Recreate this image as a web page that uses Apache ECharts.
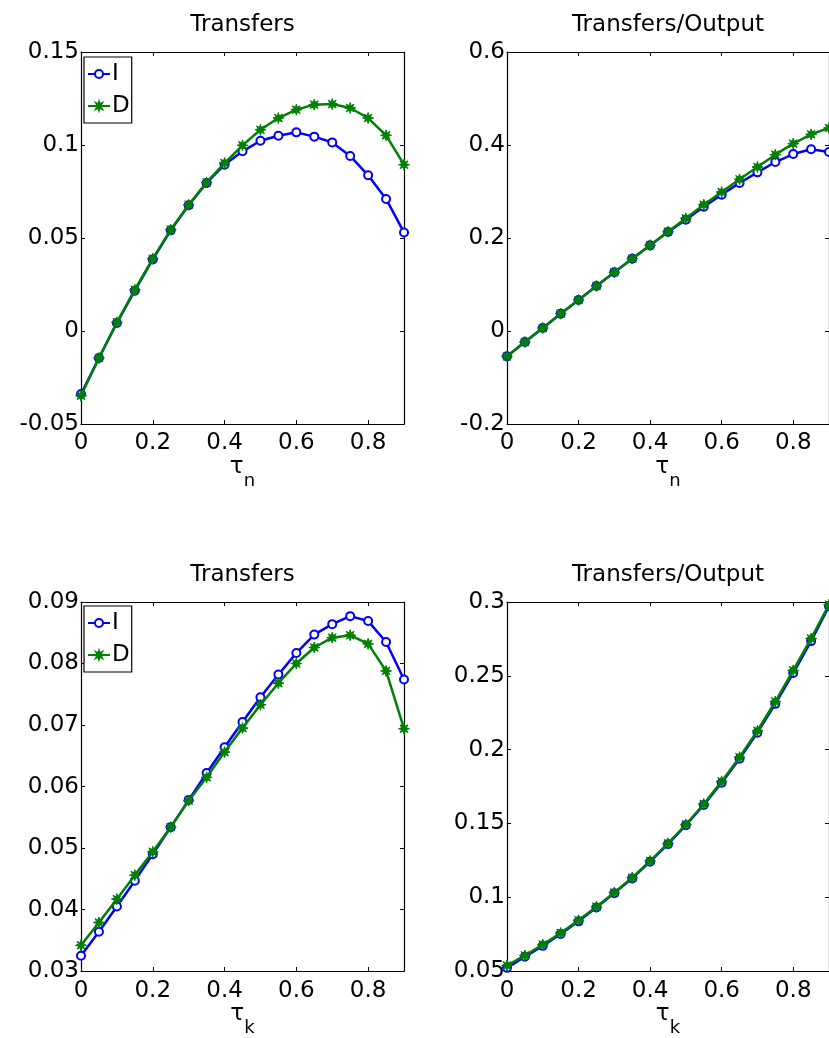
<!DOCTYPE html>
<html><head><meta charset="utf-8">
<script src="https://cdn.jsdelivr.net/npm/echarts@6/dist/echarts.min.js"></script>
<style>html,body{margin:0;padding:0;background:#fff}#c{width:829px;height:1038px}</style>
</head><body><div id="c"></div>
<script>
// x values (tau) and tick labels
const tau = [0,0.05,0.1,0.15,0.2,0.25,0.3,0.35,0.4,0.45,0.5,0.55,0.6,0.65,0.7,0.75,0.8,0.85,0.9];
const xTicks = [0,0.2,0.4,0.6,0.8];
const xMax = 0.9;

// Panel 1: Transfers vs tau_n
const transfersN_I = [-0.0339,-0.0145,0.0043,0.0217,0.0385,0.0541,0.0676,0.0796,0.0894,0.0966,0.1023,0.1050,0.1068,0.1045,0.1014,0.0941,0.0837,0.0710,0.0530];
const transfersN_D = [-0.0348,-0.0145,0.0047,0.0222,0.0389,0.0545,0.0679,0.0799,0.0903,0.0998,0.1082,0.1145,0.1190,0.1217,0.1220,0.1199,0.1145,0.1052,0.0894];
const yTicks1 = [-0.05,0,0.05,0.1,0.15];

// Panel 2: Transfers/Output vs tau_n
const ratioN_I = [-0.0545,-0.0237,0.0065,0.0373,0.0667,0.0968,0.1262,0.1556,0.1842,0.2129,0.2394,0.2674,0.2932,0.3183,0.3412,0.3634,0.3806,0.3907,0.3850];
const ratioN_D = [-0.0545,-0.0237,0.0065,0.0373,0.0667,0.0968,0.1262,0.1556,0.1845,0.2135,0.2423,0.2717,0.2989,0.3262,0.3527,0.3792,0.4029,0.4229,0.4366];
const yTicks2 = [-0.2,0,0.2,0.4,0.6];

// Panel 3: Transfers vs tau_k
const transfersK_I = [0.0325,0.0364,0.0405,0.0447,0.0490,0.0534,0.0578,0.0622,0.0664,0.0705,0.0745,0.0782,0.0817,0.0847,0.0864,0.0877,0.0869,0.0835,0.0774];
const transfersK_D = [0.0342,0.0379,0.0417,0.0456,0.0494,0.0534,0.0577,0.0615,0.0656,0.0695,0.0733,0.0768,0.0800,0.0826,0.0842,0.0846,0.0832,0.0788,0.0694];
const yTicks3 = [0.03,0.04,0.05,0.06,0.07,0.08,0.09];

// Panel 4: Transfers/Output vs tau_k
const ratioK_I = [0.0522,0.0597,0.0671,0.0752,0.0837,0.0931,0.1028,0.1128,0.1241,0.1360,0.1488,0.1625,0.1776,0.1938,0.2115,0.2310,0.2519,0.2735,0.2971];
const ratioK_D = [0.0538,0.0606,0.0680,0.0758,0.0844,0.0936,0.1032,0.1133,0.1246,0.1365,0.1493,0.1632,0.1785,0.1949,0.2128,0.2326,0.2537,0.2753,0.2982];
const yTicks4 = [0.05,0.1,0.15,0.2,0.25,0.3];

const seriesNames = ['I','D'];
const titles = ['Transfers','Transfers/Output','Transfers','Transfers/Output'];
const subs = ['n','n','k','k'];

const FONT = 'DejaVu Sans';
const STAR = 'path://M20,10L14.2,11.7L17.07,17.07L11.7,14.2L10,20L8.3,14.2L2.93,17.07L5.8,11.7L0,10L5.8,8.3L2.93,2.93L8.3,5.8L10,0L11.7,5.8L17.07,2.93L14.2,8.3Z';

const panels = [
  {grid:{left:81,top:52,width:323,height:372}, yTicks:yTicks1, I:transfersN_I, D:transfersN_D},
  {grid:{left:507,top:52,width:323,height:372}, yTicks:yTicks2, I:ratioN_I, D:ratioN_D},
  {grid:{left:81,top:602,width:323,height:371}, yTicks:yTicks3, I:transfersK_I, D:transfersK_D},
  {grid:{left:507,top:602,width:323,height:371}, yTicks:yTicks4, I:ratioK_I, D:ratioK_D}
];

const line = {show:true, onZero:false, lineStyle:{color:'#000', width:1.2}};
const tick = {show:true, inside:true, length:4, lineStyle:{color:'#000', width:1}};

const grid=[], xAxis=[], yAxis=[], series=[];
panels.forEach((p,i)=>{
  grid.push(Object.assign({containLabel:false}, p.grid));
  const yt = p.yTicks;
  const yMin = yt[0], yMax = yt[yt.length-1], yInt = +(yt[1]-yt[0]).toFixed(4);
  const xInt = xTicks[1]-xTicks[0];
  xAxis.push({
    type:'value', gridIndex:i, position:'bottom', min:xTicks[0], max:xMax, interval:xInt,
    axisLine:line, axisTick:tick, splitLine:{show:false},
    axisLabel:{color:'#000', fontSize:23, fontFamily:FONT, margin:8, showMaxLabel:false},
    name:'{t|τ}{s|'+subs[i]+'}', nameLocation:'middle', nameGap:30,
    nameTextStyle:{rich:{
      t:{fontSize:23, fontFamily:FONT, color:'#000', lineHeight:34, verticalAlign:'top'},
      s:{fontSize:18, fontFamily:FONT, color:'#000', lineHeight:34, verticalAlign:'bottom'}
    }}
  });
  xAxis.push({
    type:'value', gridIndex:i, position:'top', min:xTicks[0], max:xMax, interval:xInt,
    axisLine:line, axisTick:tick, splitLine:{show:false}, axisLabel:{show:false},
    name:titles[i], nameLocation:'middle', nameGap:15,
    nameTextStyle:{fontSize:23, fontFamily:FONT, color:'#000'}
  });
  yAxis.push({
    type:'value', gridIndex:i, position:'left', min:yMin, max:yMax, interval:yInt,
    axisLine:line, axisTick:tick, splitLine:{show:false},
    axisLabel:{color:'#000', fontSize:23, fontFamily:FONT, margin:2}
  });
  yAxis.push({
    type:'value', gridIndex:i, position:'right', min:yMin, max:yMax, interval:yInt,
    axisLine:line, axisTick:tick, splitLine:{show:false}, axisLabel:{show:false}
  });
  series.push({
    name:'I', type:'line', xAxisIndex:2*i, yAxisIndex:2*i,
    data: tau.map((x,k)=>[x,p.I[k]]),
    symbol:'emptyCircle', symbolSize:8, color:'#0000ff',
    lineStyle:{width:2.5, color:'#0000ff'}, itemStyle:{color:'#0000ff', borderWidth:2},
    animation:false, z:2
  });
  series.push({
    name:'D', type:'line', xAxisIndex:2*i, yAxisIndex:2*i,
    data: tau.map((x,k)=>[x,p.D[k]]),
    symbol:STAR, symbolSize:11, color:'#008000',
    lineStyle:{width:2.5, color:'#008000'}, itemStyle:{color:'#008000', borderColor:'#008000', borderWidth:1},
    animation:false, z:3
  });
});

const legendBase = {
  orient:'vertical', left:84, data:seriesNames, backgroundColor:'#fff',
  borderColor:'#000', borderWidth:1.2, padding:[4,2,4,3], itemGap:6,
  itemWidth:22, itemHeight:10, selectedMode:false,
  textStyle:{fontSize:23, fontFamily:FONT, color:'#000', lineHeight:26, padding:[0,0,0,-3]}
};

const chart = echarts.init(document.getElementById('c'), null, {renderer:'canvas'});
chart.setOption({
  backgroundColor:'#fff',
  animation:false,
  grid, xAxis, yAxis, series,
  legend:[Object.assign({top:57}, legendBase), Object.assign({top:606}, legendBase)]
});
</script>
</body></html>
